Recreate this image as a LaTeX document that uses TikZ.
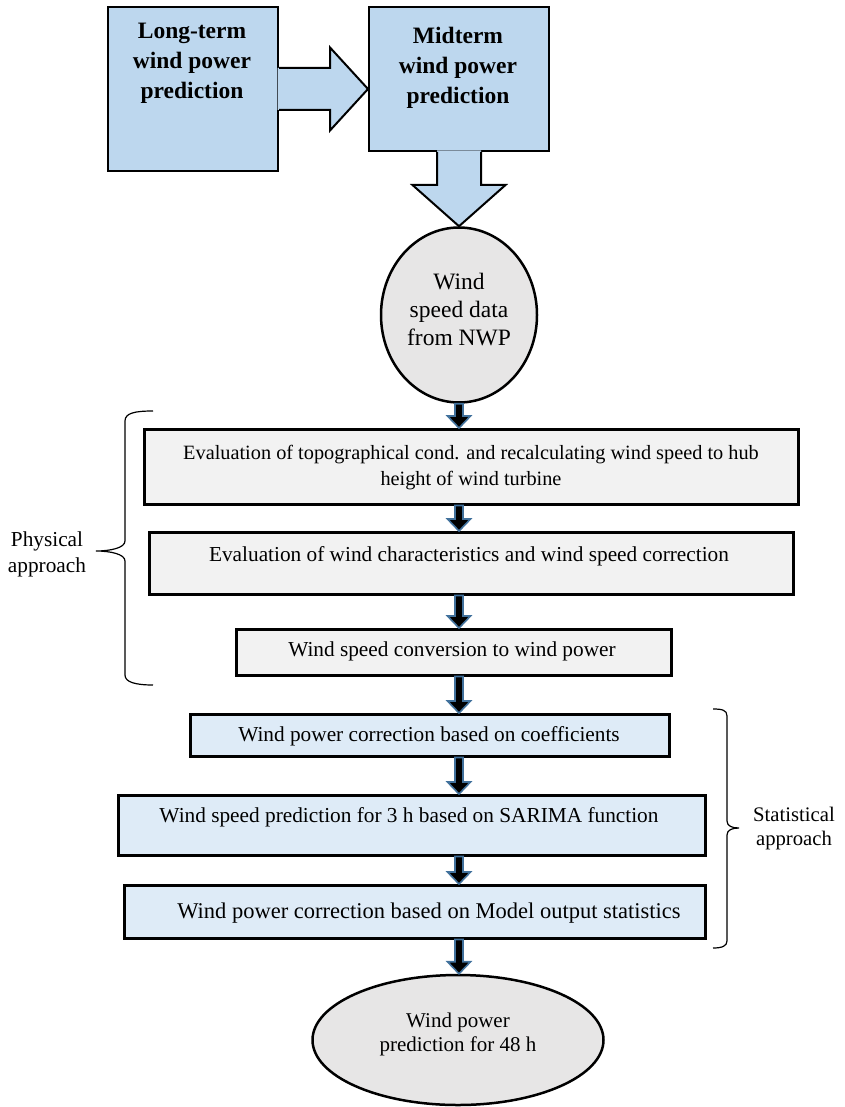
\documentclass[tikz,border=0pt]{standalone}
\usepackage{fontspec}
\setmainfont{Liberation Serif}
\usetikzlibrary{calc,shapes.geometric}
\definecolor{bigblue}{HTML}{BDD7EE}
\definecolor{lightblue}{HTML}{DEEBF7}
\definecolor{boxgray}{HTML}{F2F2F2}
\definecolor{ellgray}{HTML}{E7E6E6}
\definecolor{arrowedge}{HTML}{41719C}
\tikzset{
  topbox/.style={draw=black, line width=2pt, fill=bigblue, inner sep=0pt, anchor=north west},
  graybox/.style={draw=black, line width=2.5pt, fill=boxgray, inner sep=0pt, anchor=north west},
  bluebox/.style={draw=black, line width=2.5pt, fill=lightblue, inner sep=0pt, anchor=north west},
  ell/.style={ellipse, draw=black, line width=2.5pt, fill=ellgray, inner sep=0pt},
  boldtxt/.style={align=center, inner sep=0pt, font=\fontsize{23.5}{30}\selectfont\bfseries},
  txt/.style={align=center, inner sep=0pt, font=\fontsize{21.3}{26}\selectfont},
  sarr/.style={fill=black, draw=arrowedge, line width=1.6pt, line join=miter},
  bigfill/.style={fill=bigblue},
  bigline/.style={draw=black, line width=2pt, line join=miter},
  bracestyle/.style={draw=black, line width=1.2pt}
}
\newcommand\smallarr[2]{%
  \path[sarr] let \p1=(#1.south), \p2=(#2.north), \p3=(nwp.center) in
    (\x3-4pt,\y1) -- (\x3+4pt,\y1) -- (\x3+4pt,\y2+12pt) -- (\x3+11.5pt,\y2+12pt)
    -- (\x3,\y2) -- (\x3-11.5pt,\y2+12pt) -- (\x3-4pt,\y2+12pt) -- cycle;}
\begin{document}
\begin{tikzpicture}[x=1pt, y=-1pt]
\useasboundingbox (0,0) rectangle (844,1107);

% top boxes
\node[topbox, minimum width=170, minimum height=164] (lt) at (107,6) {};
\node[topbox, minimum width=180, minimum height=144] (mt) at (368,6) {};
\node[boldtxt] (ltt) at (192,63) {Long-term\\wind power\\prediction};
\node[boldtxt] (mtt) at (458,68) {Midterm\\wind power\\prediction};

% ellipses
\node[ell, minimum width=156, minimum height=175] (nwp) at (459,315) {};
\node[txt, font=\fontsize{23.5}{28}\selectfont] (nwpt) at (459,310) {Wind\\speed data\\from NWP};
\node[ell, minimum width=291, minimum height=130] (res) at (458,1040) {};
\node[txt, font=\fontsize{21}{24}\selectfont] (rest) at (458,1034) {Wind power\\prediction for 48 h};

% big block arrow right
\path[bigfill] ($(lt.east)+(-1.5,-21)$) -- ($(lt.east)+(51,-21)$) -- ($(lt.east)+(51,-41.5)$)
  -- (mt.west |- lt.east) -- ($(lt.east)+(51,41.5)$) -- ($(lt.east)+(51,21)$)
  -- ($(lt.east)+(-1.5,21)$) -- cycle;
\path[bigline] ($(lt.east)+(0,-21)$) -- ($(lt.east)+(51,-21)$) -- ($(lt.east)+(51,-41.5)$)
  -- (mt.west |- lt.east) -- ($(lt.east)+(51,41.5)$) -- ($(lt.east)+(51,21)$)
  -- ($(lt.east)+(0,21)$);

% big block arrow down
\path[bigfill] ($(mt.south)+(-22,-1.5)$) -- ($(mt.south)+(-22,33)$) -- ($(mt.south)+(-46.5,33)$)
  -- (nwp.north) -- ($(mt.south)+(46.5,33)$) -- ($(mt.south)+(22,33)$)
  -- ($(mt.south)+(22,-1.5)$) -- cycle;
\path[bigline] ($(mt.south)+(-22,0)$) -- ($(mt.south)+(-22,33)$) -- ($(mt.south)+(-46.5,33)$)
  -- (nwp.north) -- ($(mt.south)+(46.5,33)$) -- ($(mt.south)+(22,33)$)
  -- ($(mt.south)+(22,0)$);

% process boxes
\node[graybox, minimum width=654, minimum height=75] (b1) at (143,428) {};
\node[graybox, minimum width=644, minimum height=62] (b2) at (148,531) {};
\node[graybox, minimum width=435, minimum height=46] (b3) at (235,628) {};
\node[bluebox, minimum width=479, minimum height=42] (b4) at (189,713) {};
\node[bluebox, minimum width=587, minimum height=60] (b5) at (117,794) {};
\node[bluebox, minimum width=581, minimum height=53] (b6) at (123,884) {};

\node[txt, font=\fontsize{20.3}{26}\selectfont] (b1t) at (471,468) {Evaluation of topographical cond. and recalculating wind speed to hub\\height of wind turbine};
\node[txt] (b2t) at (469,556) {Evaluation of wind characteristics and wind speed correction};
\node[txt] (b3t) at (452,651) {Wind speed conversion to wind power};
\node[txt] (b4t) at (429,736) {Wind power correction based on coefficients};
\node[txt] (b5t) at (409,817) {Wind speed prediction for 3 h based on SARIMA function};
\node[txt, font=\fontsize{22.5}{26}\selectfont] (b6t) at (429,913) {Wind power correction based on Model output statistics};

% small arrows
\smallarr{nwp}{b1}
\smallarr{b1}{b2}
\smallarr{b2}{b3}
\smallarr{b3}{b4}
\smallarr{b4}{b5}
\smallarr{b5}{b6}
\smallarr{b6}{res}

% braces
\path[bracestyle] (153,411) .. controls (135,411) and (125,413) .. (125,421) -- (125,541)
  .. controls (125,548) and (110,551) .. (96,551) .. controls (110,551) and (125,554) .. (125,561)
  -- (125,675) .. controls (125,682) and (135,685) .. (153,685);
\node[txt] (phys) at (47,554) {Physical\\approach};

\path[bracestyle] (713,709) .. controls (722,709) and (727,710) .. (727,716) -- (727,821)
  .. controls (727,826) and (732,828) .. (739,828) .. controls (732,828) and (727,830) .. (727,835)
  -- (727,941) .. controls (727,946) and (722,948) .. (713,948);
\node[txt, font=\fontsize{20.7}{24}\selectfont] (stat) at (794,829) {Statistical\\approach};
\end{tikzpicture}
\end{document}
